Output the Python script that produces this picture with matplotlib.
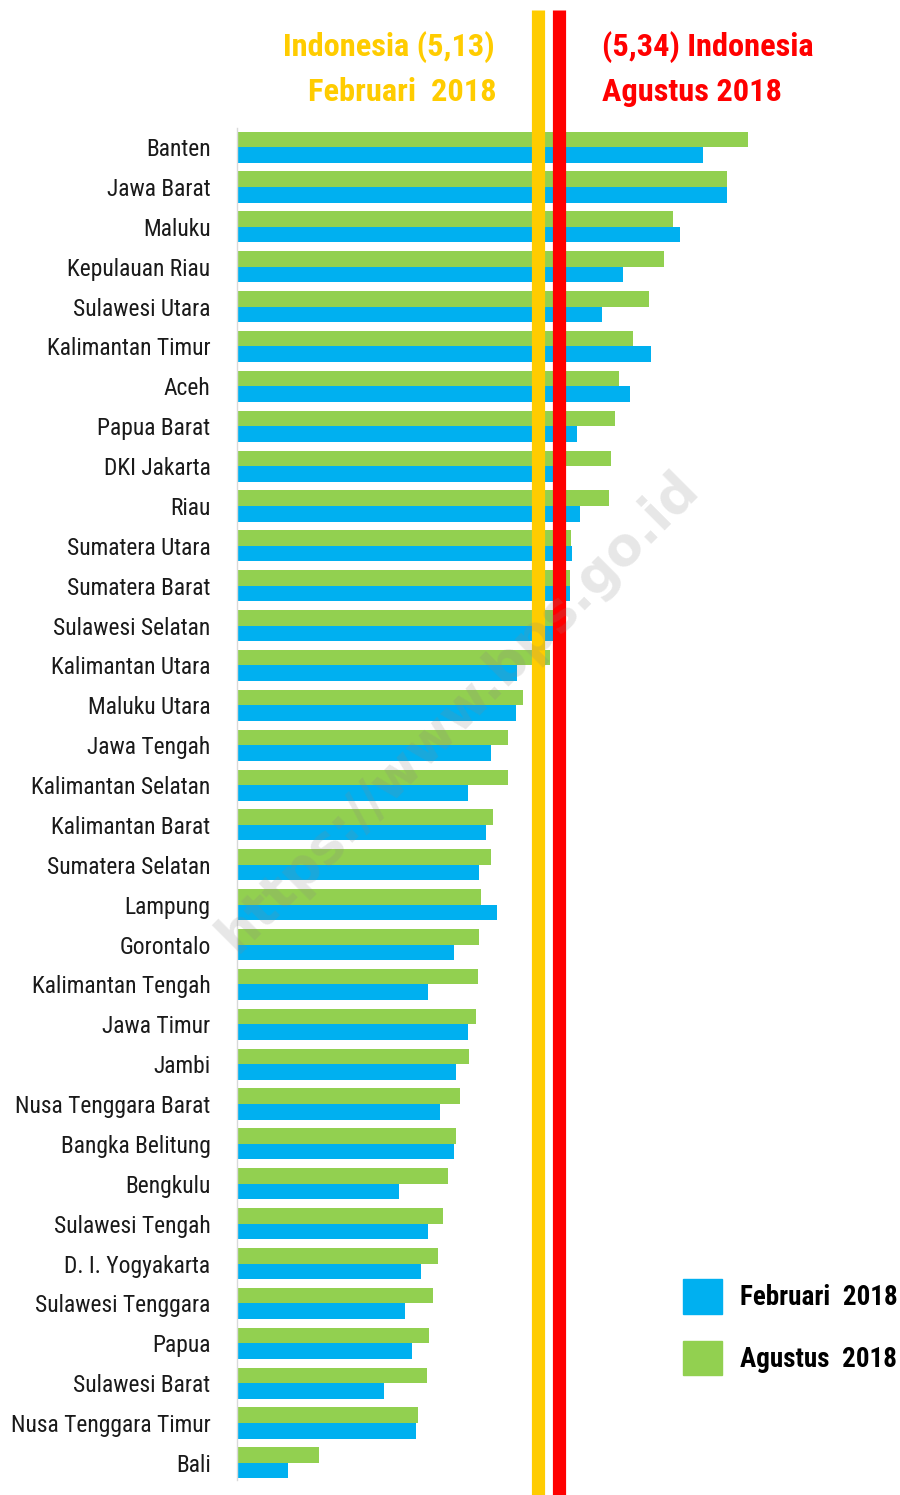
import matplotlib
matplotlib.use("Agg")
from matplotlib import pyplot as plt
from matplotlib import font_manager
from matplotlib.patches import Patch
import matplotlib.transforms as mtransforms
import numpy as np

# pick a narrow font if one is installed, otherwise plain DejaVu (condensed face if present)
names = set(f.name for f in font_manager.fontManager.ttflist)
FONT, STRETCH = 'DejaVu Sans', 'condensed'
for cand in ['Roboto Condensed', 'Liberation Sans Narrow', 'Open Sans Condensed', 'DejaVu Sans Condensed']:
    if cand in names:
        FONT, STRETCH = cand, 'normal'
        break

provinces = ['Banten', 'Jawa Barat', 'Maluku', 'Kepulauan Riau', 'Sulawesi Utara',
             'Kalimantan Timur', 'Aceh', 'Papua Barat', 'DKI Jakarta', 'Riau',
             'Sumatera Utara', 'Sumatera Barat', 'Sulawesi Selatan', 'Kalimantan Utara',
             'Maluku Utara', 'Jawa Tengah', 'Kalimantan Selatan', 'Kalimantan Barat',
             'Sumatera Selatan', 'Lampung', 'Gorontalo', 'Kalimantan Tengah', 'Jawa Timur',
             'Jambi', 'Nusa Tenggara Barat', 'Bangka Belitung', 'Bengkulu', 'Sulawesi Tengah',
             'D. I. Yogyakarta', 'Sulawesi Tenggara', 'Papua', 'Sulawesi Barat',
             'Nusa Tenggara Timur', 'Bali']

agustus = [8.52, 8.17, 7.27, 7.12, 6.86, 6.60, 6.36, 6.30, 6.24, 6.20,
           5.56, 5.55, 5.34, 5.22, 4.77, 4.51, 4.51, 4.26, 4.23, 4.06,
           4.03, 4.01, 3.99, 3.86, 3.72, 3.65, 3.51, 3.43, 3.35, 3.26,
           3.20, 3.16, 3.01, 1.37]
februari = [7.77, 8.16, 7.38, 6.43, 6.09, 6.90, 6.55, 5.67, 5.34, 5.72,
            5.58, 5.55, 5.39, 4.67, 4.65, 4.23, 3.85, 4.15, 4.03, 4.33,
            3.62, 3.18, 3.85, 3.65, 3.38, 3.62, 2.70, 3.18, 3.06, 2.80,
            2.92, 2.45, 2.98, 0.85]

legend_labels = ['Februari  2018', 'Agustus  2018']

indo_feb = 5.13
indo_aug = 5.34

green = '#92D050'
blue = '#00B0F0'
yellow = '#FFCC00'
red = '#FF0000'

fig = plt.figure(figsize=(9, 14.95), dpi=100)
ax = fig.add_axes([237/900, 15/1495, 663/900, 1352/1495])
renderer = fig.canvas.get_renderer()


def fit_width(texts, target_px):
    # shrink/grow a group of texts so the widest one is target_px wide
    widest = max(t.get_window_extent(renderer).width for t in texts)
    for t in texts:
        t.set_fontsize(t.get_fontsize() * target_px / widest)


y = np.arange(len(provinces))
h = 0.39
ax.barh(y - h/2, agustus, height=h, color=green, zorder=2)
ax.barh(y + h/2, februari, height=h, color=blue, zorder=2)

ax.set_xlim(0, 663/60)
ax.set_ylim(len(provinces) - 1 + 0.43, -0.48)

# national reference lines (shifted a little so both stay visible)
off_y = mtransforms.ScaledTranslation(-7/100, 0, fig.dpi_scale_trans)
off_r = mtransforms.ScaledTranslation(1.5/100, 0, fig.dpi_scale_trans)
ax.plot([indo_feb, indo_feb], [-0.02, 1.087], color=yellow, lw=9.5, clip_on=False,
        zorder=3, solid_capstyle='butt', transform=ax.get_xaxis_transform() + off_y)
ax.plot([indo_aug, indo_aug], [-0.02, 1.087], color=red, lw=9.5, clip_on=False,
        zorder=3, solid_capstyle='butt', transform=ax.get_xaxis_transform() + off_r)

ax.set_yticks(y)
ax.set_yticklabels(provinces, fontsize=19, family=FONT, fontstretch=STRETCH, color='#1a1a1a')
ax.tick_params(axis='y', length=0, pad=19)
ax.set_xticks([])
for s in ['top', 'right', 'bottom']:
    ax.spines[s].set_visible(False)
ax.spines['left'].set_color('#d9d9d9')
ax.spines['left'].set_linewidth(1)
fit_width(ax.get_yticklabels(), 200)

# headers
hdr = dict(va='center', fontsize=25, fontweight='bold', family=FONT, fontstretch=STRETCH)
t1 = fig.text(495/900, 1 - 47/1495, 'Indonesia (5,13)', ha='right', color=yellow, **hdr)
t2 = fig.text(497/900, 1 - 92/1495, 'Februari  2018', ha='right', color=yellow, **hdr)
t3 = fig.text(602/900, 1 - 47/1495, '(5,34) Indonesia', ha='left', color=red, **hdr)
t4 = fig.text(602/900, 1 - 92/1495, 'Agustus 2018', ha='left', color=red, **hdr)
fit_width([t1, t2, t3, t4], 212)

# legend: measure the label size first, then lay out the boxes in font units
probe = fig.text(0, 0, legend_labels[0], fontsize=20, fontweight='bold', family=FONT,
                 fontstretch=STRETCH)
fit_width([probe], 157)
lsize = probe.get_fontsize()
probe.remove()
spx = lsize * 100 / 72
handles = [Patch(color=blue, label=legend_labels[0]), Patch(color=green, label=legend_labels[1])]
leg = fig.legend(handles=handles, loc='upper left', bbox_to_anchor=(683/900, 1 - 1279/1495),
                 frameon=False, borderpad=0, borderaxespad=0,
                 handlelength=39/spx, handleheight=43/spx, handletextpad=18/spx,
                 labelspacing=27/spx,
                 prop={'family': FONT, 'weight': 'bold', 'size': lsize, 'stretch': STRETCH})

# watermark
fig.text(458/900, 1 - 712/1495, 'https://www.bps.go.id', rotation=45, ha='center', va='center',
         fontsize=38, fontweight='bold', family='DejaVu Sans', color='#888888', alpha=0.2,
         zorder=10)

plt.savefig('out.png', dpi=100)
plt.close()
